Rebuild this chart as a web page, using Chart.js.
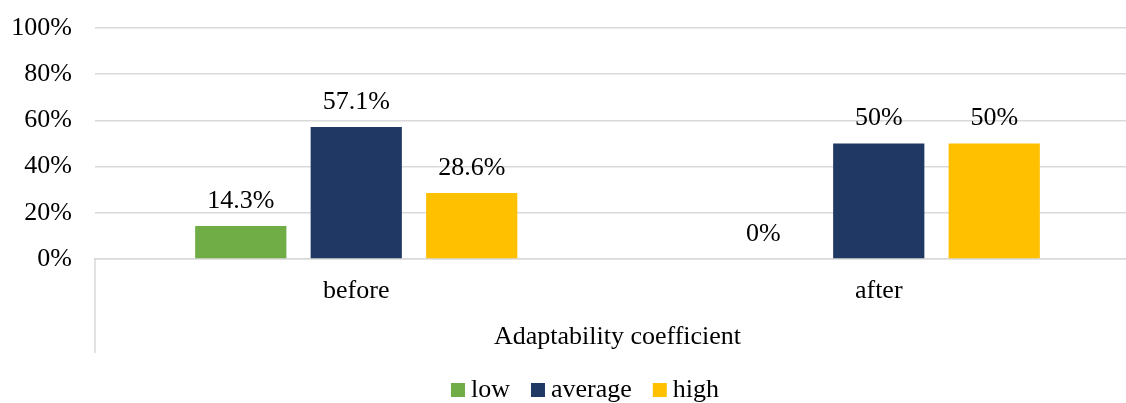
<!DOCTYPE html>
<html>
<head>
<meta charset="utf-8">
<script src="https://cdn.jsdelivr.net/npm/chart.js@4/dist/chart.umd.min.js"></script>
<style>
  html, body { margin: 0; padding: 0; background: #ffffff; overflow: hidden; }
  #wrap { position: relative; width: 1145px; height: 403px; }
</style>
</head>
<body>
<div id="wrap"><canvas id="chart"></canvas></div>
<script>
// Distribution of the adaptability coefficient, before and after
const categories = ['before', 'after'];
const axisTitle = 'Adaptability coefficient';
const seriesNames = ['low', 'average', 'high'];
const lowValues = [14.3, 0];
const averageValues = [57.1, 50];
const highValues = [28.6, 50];
const seriesColors = ['#70AD47', '#203864', '#FFC000'];
const yMin = 0;
const yMax = 100;
const yStep = 20;

const FONT_FAMILY = "'Liberation Serif', 'Times New Roman', serif";
const FONT_SIZE = 26;
const GRID_COLOR = '#d9d9d9';

// Value labels above each bar
const valueLabels = {
  id: 'valueLabels',
  afterDatasetsDraw(chart) {
    const ctx = chart.ctx;
    ctx.save();
    ctx.font = FONT_SIZE + 'px ' + FONT_FAMILY;
    ctx.fillStyle = '#000000';
    ctx.textAlign = 'center';
    ctx.textBaseline = 'middle';
    chart.data.datasets.forEach((ds, i) => {
      const meta = chart.getDatasetMeta(i);
      meta.data.forEach((bar, j) => {
        ctx.fillText(ds.data[j] + '%', bar.x, bar.y - 25);
      });
    });
    ctx.restore();
  }
};

// Side borders of the category label area
const categoryFrame = {
  id: 'categoryFrame',
  afterDraw(chart) {
    const { ctx, chartArea } = chart;
    const xScale = chart.scales.x;
    ctx.save();
    ctx.strokeStyle = GRID_COLOR;
    ctx.lineWidth = 1.5;
    ctx.beginPath();
    ctx.moveTo(chartArea.left, chartArea.bottom);
    ctx.lineTo(chartArea.left, xScale.bottom);
    ctx.moveTo(chartArea.right, chartArea.bottom);
    ctx.lineTo(chartArea.right, xScale.bottom);
    ctx.stroke();
    ctx.restore();
  }
};

// Legend row with small square swatches
const legendRow = {
  id: 'legendRow',
  afterDraw(chart) {
    const ctx = chart.ctx;
    const box = 14, gap = 6, spacing = 21;
    const centerX = 585, baseY = 397;
    ctx.save();
    ctx.font = FONT_SIZE + 'px ' + FONT_FAMILY;
    const items = chart.data.datasets.map(ds => ({
      label: ds.label, color: ds.backgroundColor, w: ctx.measureText(ds.label).width
    }));
    const total = items.reduce((s, it) => s + box + gap + it.w, 0) + spacing * (items.length - 1);
    let x = centerX - total / 2;
    ctx.textAlign = 'left';
    ctx.textBaseline = 'alphabetic';
    items.forEach(it => {
      ctx.fillStyle = it.color;
      ctx.fillRect(x, baseY - box, box, box);
      ctx.fillStyle = '#000000';
      ctx.fillText(it.label, x + box + gap, baseY);
      x += box + gap + it.w + spacing;
    });
    ctx.restore();
  }
};

const seriesValues = [lowValues, averageValues, highValues];

new Chart(document.getElementById('chart'), {
  type: 'bar',
  data: {
    labels: categories,
    datasets: seriesNames.map((name, i) => ({
      label: name,
      data: seriesValues[i],
      backgroundColor: seriesColors[i],
      borderWidth: 0,
      categoryPercentage: 0.663,
      barPercentage: 0.79
    }))
  },
  options: {
    responsive: true,
    maintainAspectRatio: false,
    animation: false,
    layout: { padding: { top: 28, left: 0, right: 5, bottom: 50 } },
    plugins: {
      legend: { display: false },
      tooltip: { enabled: false }
    },
    scales: {
      x: {
        grid: { display: false, drawTicks: false },
        border: { display: true, color: GRID_COLOR, width: 1.5 },
        ticks: {
          color: '#000000',
          padding: 17,
          font: { family: FONT_FAMILY, size: FONT_SIZE }
        },
        title: {
          display: true,
          text: axisTitle,
          color: '#000000',
          padding: { top: 0, bottom: 0 },
          font: { family: FONT_FAMILY, size: FONT_SIZE }
        },
        afterFit(scale) {
          scale.height = 94;
          scale.paddingLeft = 0;
          scale.paddingRight = 0;
        }
      },
      y: {
        min: yMin,
        max: yMax,
        grid: { color: GRID_COLOR, lineWidth: 1.5, drawTicks: false },
        border: { display: false },
        ticks: {
          stepSize: yStep,
          color: '#000000',
          padding: 23,
          font: { family: FONT_FAMILY, size: FONT_SIZE },
          callback: v => v + '%'
        },
        afterFit(scale) {
          scale.width = 95;
          scale.paddingTop = 0;
          scale.paddingBottom = 0;
        }
      }
    }
  },
  plugins: [valueLabels, categoryFrame, legendRow]
});
</script>
</body>
</html>
